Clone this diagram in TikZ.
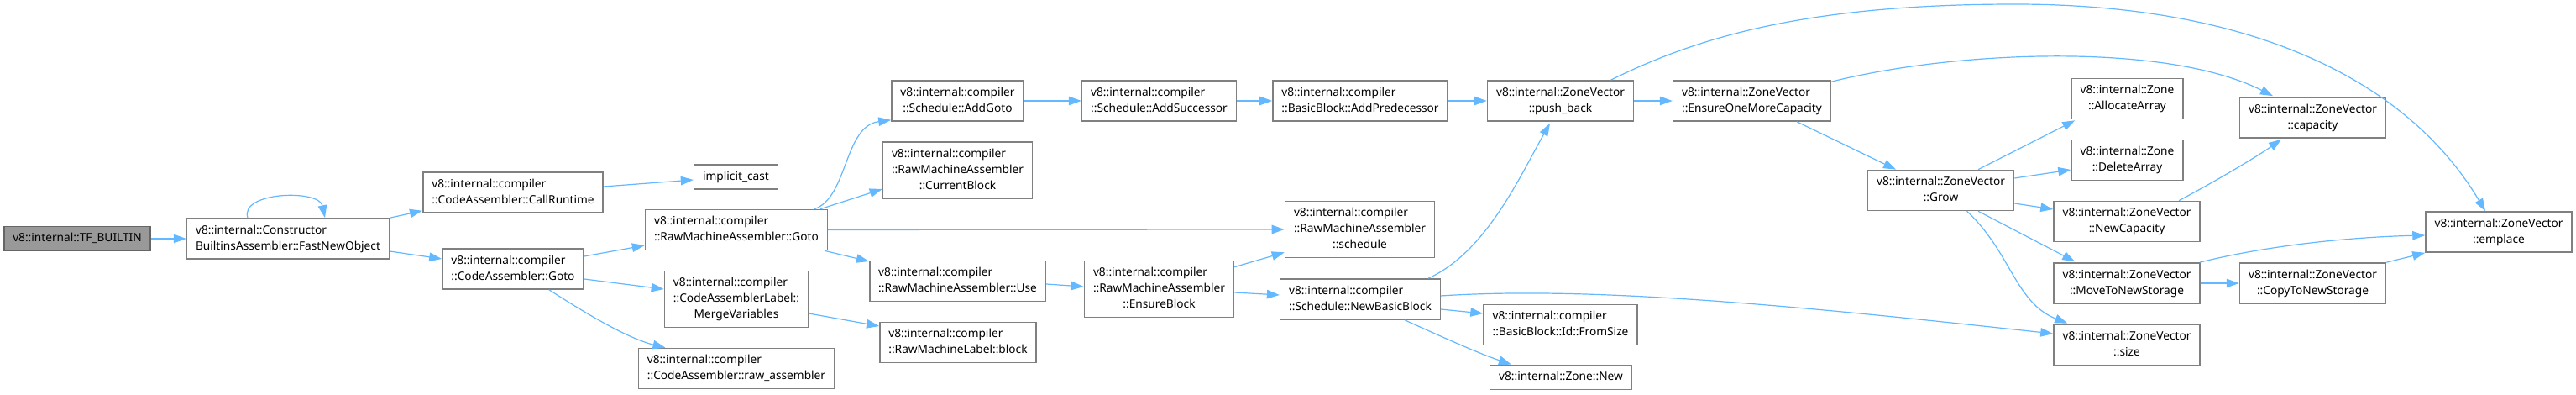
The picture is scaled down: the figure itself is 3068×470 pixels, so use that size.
\documentclass[tikz,border=0pt]{standalone}
\usepackage{fontspec}
\setmainfont{Noto Sans}
\usetikzlibrary{arrows.meta,calc}

\definecolor{edgeblue}{HTML}{63B8FF}
\definecolor{rootfill}{HTML}{999999}
\definecolor{boxline}{HTML}{808080}

% label: first lines left aligned, last line centred
\newcommand{\fnlabel}[2]{\begin{tabular}{@{}l@{}}#1\\\multicolumn{1}{@{}c@{}}{#2}\end{tabular}}

\begin{document}
\begin{tikzpicture}[x=1pt,y=-1pt,
    fn/.style={draw=boxline, line width=1.6pt, fill=white, inner xsep=10.5pt,
      inner ysep=5pt, font=\fontsize{13.7}{19}\selectfont},
    root/.style={fn, fill=rootfill, draw=black!60},
    call/.style={draw=edgeblue, line width=1.2pt, -{Triangle[length=15pt,width=10.5pt]}}]

  \useasboundingbox (0,0) rectangle (3068,470);

  % Caller and first level
  \node[root] (tf) at (92,284) {\strut v8::internal::TF\_BUILTIN};
  \node[fn] (fno) at (343,284) {\fnlabel{v8::internal::Constructor}{BuiltinsAssembler::FastNewObject}};
  \node[fn] (callrt) at (611,229) {\fnlabel{v8::internal::compiler}{::CodeAssembler::CallRuntime}};
  \node[fn] (cagoto) at (611,320) {\fnlabel{v8::internal::compiler}{::CodeAssembler::Goto}};

  % Third column
  \node[fn] (implcast) at (876.5,210.5) {\strut implicit\_cast};
  \node[fn] (rmagoto) at (877,273.5) {\fnlabel{v8::internal::compiler}{::RawMachineAssembler::Goto}};
  \node[fn] (mergevars) at (877,356) {\fnlabel{v8::internal::compiler\\::CodeAssemblerLabel::}{MergeVariables}};
  \node[fn] (rawasm) at (877,438.5) {\fnlabel{v8::internal::compiler}{::CodeAssembler::raw\_assembler}};

  % Fourth column
  \node[fn] (addgoto) at (1140.5,120) {\fnlabel{v8::internal::compiler}{::Schedule::AddGoto}};
  \node[fn] (curblock) at (1140.5,202.5) {\fnlabel{v8::internal::compiler\\::RawMachineAssembler}{::CurrentBlock}};
  \node[fn] (use) at (1140.5,334.5) {\fnlabel{v8::internal::compiler}{::RawMachineAssembler::Use}};
  \node[fn] (rmlblock) at (1141,407.5) {\fnlabel{v8::internal::compiler}{::RawMachineLabel::block}};

  \node[fn] (addsucc) at (1380.5,120) {\fnlabel{v8::internal::compiler}{::Schedule::AddSuccessor}};
  \node[fn] (ensblock) at (1380.5,344) {\fnlabel{v8::internal::compiler\\::RawMachineAssembler}{::EnsureBlock}};

  \node[fn] (addpred) at (1620,120) {\fnlabel{v8::internal::compiler}{::BasicBlock::AddPredecessor}};
  \node[fn] (schedule) at (1619.5,273) {\fnlabel{v8::internal::compiler\\::RawMachineAssembler}{::schedule}};
  \node[fn] (newbb) at (1620,356) {\fnlabel{v8::internal::compiler}{::Schedule::NewBasicBlock}};

  \node[fn] (pushback) at (1858.5,120) {\fnlabel{v8::internal::ZoneVector}{::push\_back}};
  \node[fn] (fromsize) at (1858.5,386.5) {\fnlabel{v8::internal::compiler}{::BasicBlock::Id::FromSize}};
  \node[fn] (zonenew) at (1859,449) {\strut v8::internal::Zone::New};

  % ZoneVector internals
  \node[fn] (ensmore) at (2086.5,120) {\fnlabel{v8::internal::ZoneVector}{::EnsureOneMoreCapacity}};
  \node[fn] (grow) at (2311.5,226.5) {\fnlabel{v8::internal::ZoneVector}{::Grow}};
  \node[fn] (allocarr) at (2533.5,117.5) {\fnlabel{v8::internal::Zone}{::AllocateArray}};
  \node[fn] (delarr) at (2533.5,190.5) {\fnlabel{v8::internal::Zone}{::DeleteArray}};
  \node[fn] (newcap) at (2533,263.5) {\fnlabel{v8::internal::ZoneVector}{::NewCapacity}};
  \node[fn] (movestor) at (2533,337) {\fnlabel{v8::internal::ZoneVector}{::MoveToNewStorage}};
  \node[fn] (size) at (2533,410.5) {\fnlabel{v8::internal::ZoneVector}{::size}};
  \node[fn] (capacity) at (2754.5,140) {\fnlabel{v8::internal::ZoneVector}{::capacity}};
  \node[fn] (copystor) at (2754.5,337) {\fnlabel{v8::internal::ZoneVector}{::CopyToNewStorage}};
  \node[fn] (emplace) at (2976,276) {\fnlabel{v8::internal::ZoneVector}{::emplace}};

  % Calls
  \draw[call] (tf.east) -- (fno.west);
  \draw[call] ($(fno.north)+(-48,0)$) .. controls (285,228) and (380,225) .. ($(fno.north)+(44,0)$);
  \draw[call] (fno.north east) -- ($(callrt.south west)+(0,-3)$);
  \draw[call] ($(fno.east)+(0,15)$) -- ($(cagoto.west)+(0,-12)$);
  \draw[call] ($(callrt.east)+(0,-7)$) -- ($(implcast.west)+(0,3.5)$);
  \draw[call] ($(cagoto.east)+(0,-15)$) -- ($(rmagoto.west)+(0,18.5)$);
  \draw[call] ($(cagoto.east)+(0,12)$) -- ($(mergevars.west)+(0,-12)$);
  \draw[call] ($(cagoto.south)+(43,0)$) .. controls (690,368) and (745,402) .. ($(rawasm.north)+(-84.5,0)$);

  \draw[call] ($(rmagoto.north)+(93,0)$) .. controls (1010,235) and (1005,150) .. ($(addgoto.south west)+(0,-2)$);
  \draw[call] ($(rmagoto.north)+(100,0)$) -- ($(curblock.west)+(0,22.5)$);
  \draw[call] (rmagoto.east) -- (schedule.west);
  \draw[call] ($(rmagoto.south)+(105,0)$) -- ($(use.west)+(0,-23.5)$);
  \draw[call] ($(mergevars.east)+(0,17)$) -- ($(rmlblock.west)+(0,-19.5)$);

  \draw[call] (addgoto.east) -- (addsucc.west);
  \draw[call] (addsucc.east) -- (addpred.west);
  \draw[call] (addpred.east) -- (pushback.west);
  \draw[call] ($(use.east)+(0,3.5)$) -- ($(ensblock.west)+(0,-3)$);
  \draw[call] ($(ensblock.north east)+(0,8)$) -- ($(schedule.south west)+(0,-7)$);
  \draw[call] ($(ensblock.east)+(0,4)$) -- ($(newbb.west)+(0,-5)$);

  \draw[call] ($(newbb.north)+(81,0)$) .. controls (1770,300) and (1810,210) .. ($(pushback.south)+(-12.5,2)$);
  \draw[call] ($(newbb.east)+(0,12)$) -- ($(fromsize.west)+(0,-13.5)$);
  \draw[call] ($(newbb.south)+(53,0)$) .. controls (1720,402) and (1760,420) .. ($(zonenew.north)+(-59,0)$);
  \draw[call] ($(newbb.east)+(0,-4)$) .. controls (1900,340) and (2150,365) .. ($(size.west)+(0,-13.5)$);

  \draw[call] (pushback.east) -- (ensmore.west);
  \draw[call] ($(pushback.north)+(60,0)$) .. controls (2020,45) and (2150,5) .. (2400,5)
    .. controls (2690,5) and (2870,100) .. ($(emplace.north)+(-16,0)$);
  \draw[call] ($(ensmore.north east)+(0,2)$) .. controls (2330,60) and (2580,50) .. ($(capacity.north)+(-47.5,-1)$);
  \draw[call] ($(ensmore.south)+(53.5,0)$) -- ($(grow.north)+(-53.5,0)$);

  \draw[call] ($(grow.north)+(44.5,0)$) -- ($(allocarr.south west)+(5,1)$);
  \draw[call] ($(grow.east)+(0,-14.5)$) -- ($(delarr.west)+(0,11.5)$);
  \draw[call] ($(grow.east)+(0,15.5)$) -- ($(newcap.west)+(0,-14.5)$);
  \draw[call] ($(grow.south)+(44.5,0)$) -- ($(movestor.north west)+(26,-1)$);
  \draw[call] ($(grow.south)+(31,0)$) .. controls (2395,300) and (2400,360) .. ($(size.north west)+(17,-1)$);

  \draw[call] ($(newcap.north)+(62,0)$) .. controls (2640,215) and (2690,185) .. ($(capacity.south)+(-37.5,1)$);
  \draw[call] ($(movestor.north east)+(-1,0)$) .. controls (2700,292) and (2800,282) .. ($(emplace.west)+(0,4)$);
  \draw[call] (movestor.east) -- (copystor.west);
  \draw[call] (copystor.north east) -- (emplace.south west);

\end{tikzpicture}
\end{document}
